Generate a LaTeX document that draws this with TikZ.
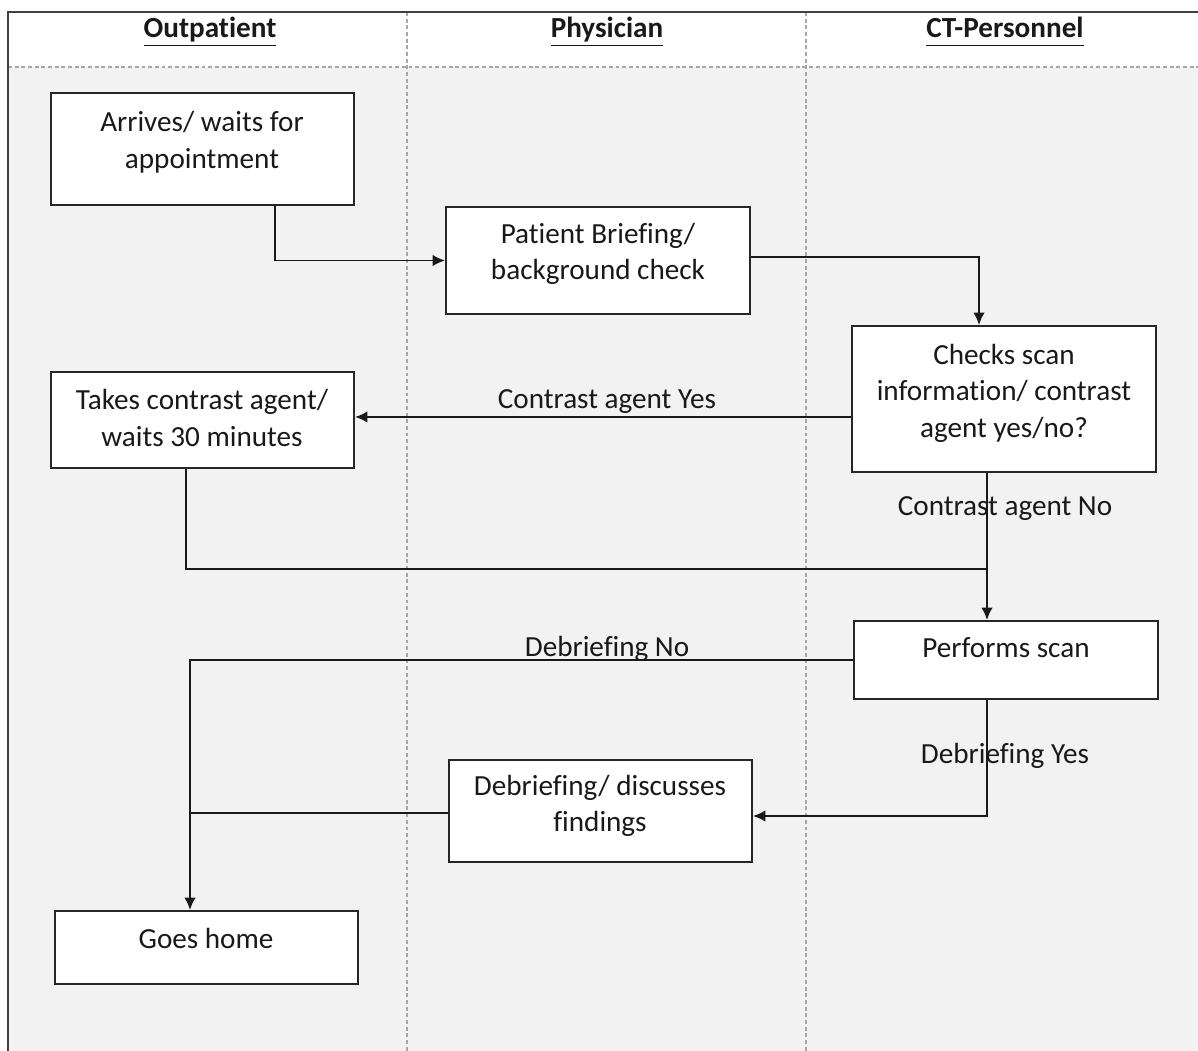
\documentclass[tikz,border=0pt]{standalone}
\usepackage{fontspec}
\setmainfont{Carlito}[Ligatures=NoCommon]
\usetikzlibrary{arrows.meta,fit}
\definecolor{lanegray}{HTML}{F2F2F2}
\definecolor{dashgray}{HTML}{A6A6A6}
\definecolor{framegray}{HTML}{404040}
\newcommand{\lanename}[1]{\underline{#1\vphantom{p}}}

\tikzset{
    actbox/.style={draw=black!85, line width=1.1pt, fill=white, inner sep=0pt},
    boxtext/.style={align=center, font=\fontsize{16.6}{20.8}\selectfont, text=black!90},
    lanehead/.style={anchor=base, font=\fontsize{16.6}{20}\selectfont\bfseries, text=black!90},
    flowlabel/.style={font=\fontsize{16.6}{20}\selectfont, text=black!90},
    lanedash/.style={draw=dashgray, line width=0.6pt, dash pattern=on 2.2pt off 1.6pt},
    flow/.style={line width=1.1pt, draw=black!90, -{Latex[length=7pt,width=6.5pt]}},
    flowline/.style={line width=1.1pt, draw=black!90}
}

\begin{document}
\begin{tikzpicture}[x=0.02cm, y=-0.02cm]
    \useasboundingbox (0,0) rectangle (1198,1051);

    % Swim lanes
    \fill[lanegray] (8,67) rectangle (1198,1051);
    \draw[lanedash] (8,67) -- (1198,67);
    \draw[lanedash] (407,12) -- (407,1051);
    \draw[lanedash] (806,12) -- (806,1051);
    \draw[framegray, line width=1.2pt] (1198,12) -- (8,12) -- (8,1051);

    % Lane headers
    \node[lanehead] (hout) at (210,38) {\lanename{Outpatient}};
    \node[lanehead] (hphy) at (607,38) {\lanename{Physician}};
    \node[lanehead] (hct) at (1005,38) {\lanename{CT-Personnel}};

    % Boxes
    \node[actbox, fit={(51,93) (354,205)}] (arrive) {};
    \node[boxtext] (arrive-t) at (202,142) {Arrives/ waits for\\appointment};

    \node[actbox, fit={(446,207) (750,314)}] (brief) {};
    \node[boxtext] (brief-t) at (598,254) {Patient Briefing/\\background check};

    \node[actbox, fit={(852,326) (1156,472)}] (check) {};
    \node[boxtext] (check-t) at (1004,393) {Checks scan\\information/ contrast\\agent yes/no?};

    \node[actbox, fit={(51,372) (354,468)}] (contrast) {};
    \node[boxtext] (contrast-t) at (202,418) {Takes contrast agent/\\waits 30 minutes};

    \node[actbox, fit={(854,621) (1158,699)}] (scan) {};
    \node[boxtext] (scan-t) at (1006,648) {Performs scan};

    \node[actbox, fit={(449,760) (752,862)}] (debrief) {};
    \node[boxtext] (debrief-t) at (600,806) {Debriefing/ discusses\\findings};

    \node[actbox, fit={(55,911) (358,984)}] (home) {};
    \node[boxtext] (home-t) at (206,938) {Goes home};

    % Joints
    \coordinate (join) at (987,569);
    \coordinate (homedrop) at ([xshift=-0.33cm]home.north);
    \coordinate (yesin) at ([yshift=0.06cm]contrast.east);
    \coordinate (debin) at ([yshift=-0.1cm]debrief.east);
    \coordinate (debout) at ([yshift=-0.04cm]debrief.west);

    % Connectors
    \draw[flow] ([xshift=1.45cm]arrive.south) |- (brief.west);
    \draw[flow] ([yshift=0.07cm]brief.east) -| ([xshift=-0.5cm]check.north);
    \draw[flow] (check.west |- yesin) -- (yesin);
    \draw[flow] (check.south -| join) -- (scan.north -| join);
    \draw[flowline] ([xshift=-0.33cm]contrast.south) |- (join);
    \draw[flow] (scan.west) -| (homedrop);
    \draw[flow] (scan.south -| join) |- (debin);
    \draw[flowline] (debout) -- (debout -| homedrop);

    % Labels
    \node[flowlabel] (lyes) at (607,402) {Contrast agent Yes};
    \node[flowlabel] (lno) at (1005,509) {Contrast agent No};
    \node[flowlabel] (dno) at (607,649) {Debriefing No};
    \node[flowlabel] (dyes) at (1005,756) {Debriefing Yes};
\end{tikzpicture}
\end{document}
